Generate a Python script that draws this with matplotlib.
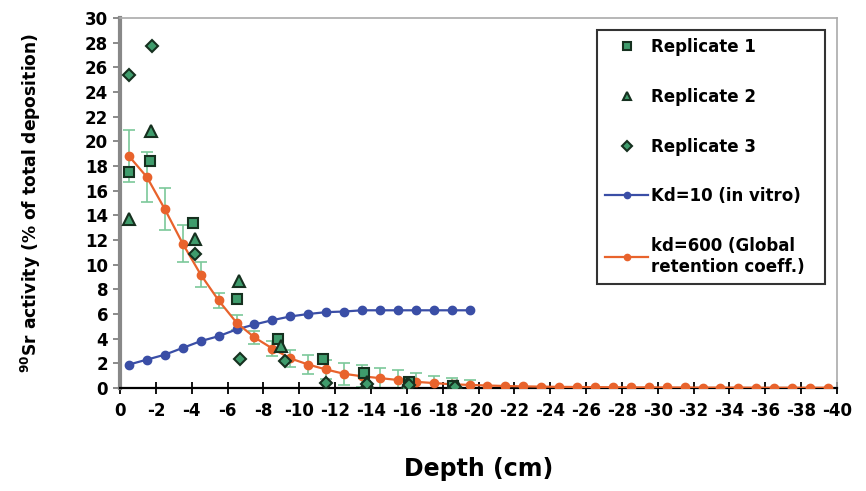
import numpy as np
import matplotlib
matplotlib.use('Agg')
import matplotlib.pyplot as plt

plt.rcParams['axes.unicode_minus'] = False
plt.rcParams['font.family'] = ['Liberation Sans Narrow', 'DejaVu Sans']
plt.rcParams['font.weight'] = 'bold'

# Model curves, sampled every 1 cm of depth (cm, negative = below surface)
kd600_depth = -(np.arange(40) + 0.5)
kd600 = [18.8, 17.1, 14.5, 11.7, 9.2, 7.1, 5.3, 4.1, 3.2, 2.4,
         1.9, 1.5, 1.15, 0.95, 0.8, 0.65, 0.5, 0.4, 0.3, 0.25,
         0.2, 0.16, 0.13, 0.11, 0.09, 0.08, 0.07, 0.06, 0.05, 0.05,
         0.04, 0.04, 0.03, 0.03, 0.03, 0.02, 0.02, 0.02, 0.02, 0.02]
kd600_err = [2.1, 2.0, 1.7, 1.5, 1.0, 0.6, 0.6, 0.5, 0.6, 0.7,
             0.8, 0.8, 0.9, 0.9, 0.8, 0.8, 0.7, 0.6, 0.5, 0.4]

kd10_depth = -(np.arange(20) + 0.5)
kd10 = [1.9, 2.3, 2.7, 3.25, 3.8, 4.2, 4.75, 5.15, 5.5, 5.8,
        6.0, 6.15, 6.2, 6.3, 6.3, 6.3, 6.3, 6.3, 6.3, 6.3]

# Measured replicates
rep1_depth = [-0.5, -1.7, -4.05, -6.5, -8.8, -11.35, -13.6, -16.1, -18.6]
rep1 = [17.5, 18.4, 13.4, 7.2, 4.0, 2.35, 1.2, 0.5, 0.2]
rep2_depth = [-0.5, -1.75, -4.2, -6.65, -9.0, -13.8, -16.0, -18.8]
rep2 = [13.7, 20.8, 12.1, 8.7, 3.4, 0.5, 0.3, 0.2]
rep3_depth = [-0.5, -1.8, -4.2, -6.7, -9.2, -11.5, -13.8, -16.1, -18.7]
rep3 = [25.35, 27.7, 10.9, 2.35, 2.2, 0.4, 0.35, 0.25, 0.1]

green = '#3f9c6c'
dark = '#16301f'
blue = '#3a4ea6'
orange = '#e8632c'

fig = plt.figure(figsize=(8.66, 4.91), dpi=100)
ax = fig.add_axes([0.1386, 0.2098, 0.8279, 0.7535])

ax.errorbar(kd600_depth[:20], kd600[:20], yerr=kd600_err, fmt='none',
            ecolor='#7cc89a', elinewidth=1.2, capsize=4, capthick=1.2, zorder=2)
ax.plot(kd10_depth, kd10, '-o', color=blue, lw=1.6, ms=6, zorder=3,
        label='Kd=10 (in vitro)')
ax.plot(kd600_depth, kd600, '-o', color=orange, lw=1.6, ms=6, zorder=3,
        label='kd=600 (Global\nretention coeff.)')
ax.plot(rep1_depth, rep1, 's', ms=7, mfc=green, mec=dark, mew=1.5, zorder=4,
        label='Replicate 1')
ax.plot(rep2_depth, rep2, '^', ms=8.5, mfc=green, mec=dark, mew=1.5, zorder=4,
        label='Replicate 2')
ax.plot(rep3_depth, rep3, 'D', ms=6.5, mfc=green, mec=dark, mew=1.5, zorder=4,
        label='Replicate 3')

ax.set_xlim(0, -40)
ax.set_ylim(0, 30)
ax.set_xticks(np.arange(0, -41, -2))
ax.set_yticks(np.arange(0, 31, 2))
ax.tick_params(axis='x', direction='inout', length=8, width=1.3, labelsize=12, pad=6)
ax.tick_params(axis='y', direction='out', length=5, width=1.2, colors='#777777',
               labelcolor='black', labelsize=12)

for s in ['top', 'right']:
    ax.spines[s].set_color('#aaaaaa')
    ax.spines[s].set_linewidth(1.2)
ax.spines['left'].set_color('#888888')
ax.spines['left'].set_linewidth(3)
ax.spines['bottom'].set_color('black')
ax.spines['bottom'].set_linewidth(1.6)

ax.set_xlabel('Depth (cm)', fontsize=17, fontweight='bold', labelpad=27,
              family='DejaVu Sans')
ax.set_ylabel(r'$^{90}$Sr activity (% of total deposition)', fontsize=12.3,
              fontweight='bold', labelpad=30, family='DejaVu Sans')

handles, labels = ax.get_legend_handles_labels()
order = [2, 3, 4, 0, 1]
leg = ax.legend([handles[i] for i in order], [labels[i] for i in order],
                loc='upper left', bbox_to_anchor=(0.665, 0.273, 0.318, 0.695),
                mode='expand', fontsize=12, frameon=True, fancybox=False,
                edgecolor='black', labelspacing=1.9, handlelength=2.6,
                handletextpad=0.15, markerscale=0.75, borderpad=0.5,
                borderaxespad=0)
leg.get_frame().set_linewidth(1.5)

fig.savefig('out.png', dpi=100)
